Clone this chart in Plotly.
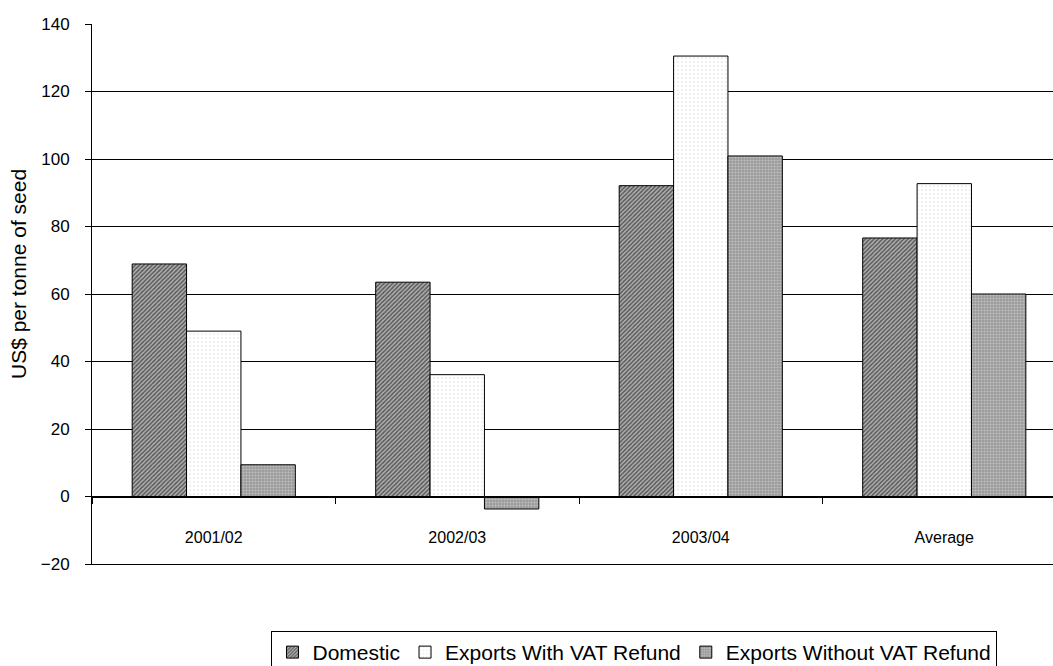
import plotly.graph_objects as go

# Margin per tonne of seed, by season
seasons = ["2001/02", "2002/03", "2003/04", "Average"]
domestic = [68.9, 63.5, 92.1, 76.6]
exports_with_vat = [49.0, 36.1, 130.5, 92.7]
exports_without_vat = [9.4, -3.7, 100.9, 60.0]

y_ticks = [-20, 0, 20, 40, 60, 80, 100, 120, 140]

FONT = "Liberation Sans, Arial, sans-serif"

series = [
    ("Domestic", domestic,
     dict(shape="/", fgcolor="#000000", bgcolor="#b8b8b8", size=3, solidity=0.55)),
    ("Exports With VAT Refund", exports_with_vat,
     dict(shape=".", fgcolor="#c4c4c4", bgcolor="#ffffff", size=4, solidity=0.15)),
    ("Exports Without VAT Refund", exports_without_vat,
     dict(shape=".", fgcolor="#e4e4e4", bgcolor="#9a9a9a", size=3, solidity=0.4)),
]

fig = go.Figure()
for name, vals, pattern in series:
    fig.add_trace(go.Bar(
        name=name,
        x=seasons,
        y=vals,
        marker=dict(color=pattern["bgcolor"], pattern=pattern,
                    line=dict(color="#000000", width=1)),
    ))

# invisible trace carrying the bottom frame line axis
fig.add_trace(go.Scatter(x=[0, 1], y=[0, 0], xaxis="x2", mode="lines",
                         line=dict(width=0), showlegend=False, hoverinfo="skip"))

fig.update_layout(
    width=1053,
    height=666,
    margin=dict(l=92, r=0, t=24, b=102, autoexpand=False),
    paper_bgcolor="#ffffff",
    plot_bgcolor="#ffffff",
    barmode="group",
    bargap=0.33,
    bargroupgap=0,
    font=dict(family=FONT, size=16, color="#000000"),
    xaxis=dict(
        type="category",
        range=[-0.5, 3.4465],
        anchor="free",
        position=0.125,
        showline=True,
        linecolor="#000000",
        linewidth=1,
        ticks="outside",
        tickson="boundaries",
        ticklen=6,
        tickcolor="#000000",
        ticklabelstandoff=26,
        showgrid=False,
        zeroline=False,
        tickfont=dict(family=FONT, size=16),
    ),
    xaxis2=dict(
        overlaying="x",
        anchor="y",
        range=[0, 1],
        showline=True,
        linecolor="#000000",
        linewidth=1,
        showticklabels=False,
        ticks="",
        showgrid=False,
        zeroline=False,
    ),
    yaxis=dict(
        range=[-20, 140],
        tickvals=y_ticks,
        ticks="outside",
        ticklen=6,
        tickcolor="#000000",
        ticklabelstandoff=12,
        showline=True,
        linecolor="#000000",
        linewidth=1,
        showgrid=True,
        gridcolor="#000000",
        gridwidth=1,
        zeroline=False,
        tickfont=dict(family=FONT, size=17),
    ),
    annotations=[dict(
        text="US$ per tonne of seed",
        xref="paper", yref="paper",
        x=-0.077, y=0.537,
        xanchor="center", yanchor="middle",
        textangle=-90,
        showarrow=False,
        font=dict(family=FONT, size=21),
    )],
    legend=dict(
        orientation="h",
        x=0.5645,
        xanchor="center",
        y=-0.124,
        yanchor="top",
        bordercolor="#000000",
        borderwidth=1,
        bgcolor="#ffffff",
        font=dict(family=FONT, size=21),
        itemwidth=30,
        traceorder="normal",
    ),
)

fig.write_html("out.html")
